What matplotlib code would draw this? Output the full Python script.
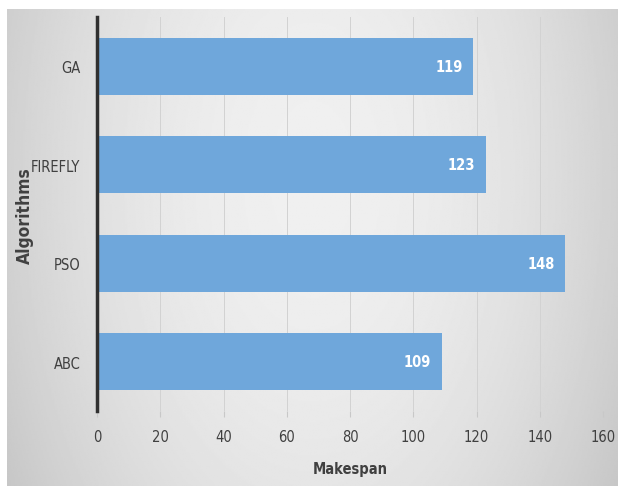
import numpy as np
import matplotlib
matplotlib.use("Agg")
import matplotlib.pyplot as plt

algorithms = ["ABC", "PSO", "FIREFLY", "GA"]
makespan = [109, 148, 123, 119]
x_ticks = [0, 20, 40, 60, 80, 100, 120, 140, 160]

W, H = 618, 489
fig = plt.figure(figsize=(W / 100, H / 100), dpi=100)
fig.patch.set_facecolor("white")

# Soft grey backdrop: light in the middle, darker toward the sides and bottom
bg = fig.add_axes([7 / W, 1 - 487 / H, (W - 7) / W, (487 - 10) / H], zorder=0)
yy, xx = np.mgrid[-1:1:300j, -1:1:400j]
r2 = xx ** 2 + (0.45 * (yy + 0.3)) ** 2
shade = 0.94 - 0.12 * np.clip(r2, 0, 1.4)
bg.imshow(shade, cmap="gray", vmin=0, vmax=1, aspect="auto",
          extent=[0, 1, 0, 1], origin="upper")
bg.axis("off")

font = dict(family="DejaVu Sans", stretch="condensed")

ax = fig.add_axes([97 / W, 1 - 412 / H, (603 - 97) / W, (412 - 18) / H], zorder=1)
ax.patch.set_alpha(0)
y = np.arange(len(algorithms))
ax.barh(y, makespan, height=0.58, color="#6fa7db", zorder=2)
for yi, v in zip(y, makespan):
    ax.text(v - 3.3, yi, str(v), ha="right", va="center", color="white",
            fontsize=10.5, fontweight="bold", zorder=3, **font)

ax.set_xlim(0, 160)
ax.set_ylim(-0.5, 3.5)
ax.set_xticks(x_ticks)
ax.set_xticklabels([str(t) for t in x_ticks], fontsize=10.5, color="#404040", **font)
ax.set_yticks(y)
ax.set_yticklabels(algorithms, fontsize=10.5, color="#404040", **font)
ax.xaxis.grid(True, color="#d2d2d2", linewidth=0.7, zorder=0)
ax.set_axisbelow(True)
for s in ["top", "right", "bottom"]:
    ax.spines[s].set_visible(False)
ax.spines["left"].set_linewidth(2.5)
ax.spines["left"].set_color("#303030")
ax.tick_params(axis="y", length=0, pad=12)
ax.tick_params(axis="x", length=4, color="#c8c8c8", pad=9)

ax.set_xlabel("Makespan", fontsize=10.5, fontweight="bold", color="#404040", **font)
ax.set_ylabel("Algorithms", fontsize=12.5, fontweight="bold", color="#404040", **font)
ax.xaxis.set_label_coords((350 - 97) / (603 - 97), -(470 - 412) / (412 - 18))
ax.yaxis.set_label_coords((25 - 97) / (603 - 97), (412 - 216) / (412 - 18))
ax.yaxis.label.set_va("center")
ax.xaxis.label.set_va("center")

fig.savefig("out.png", dpi=100)
